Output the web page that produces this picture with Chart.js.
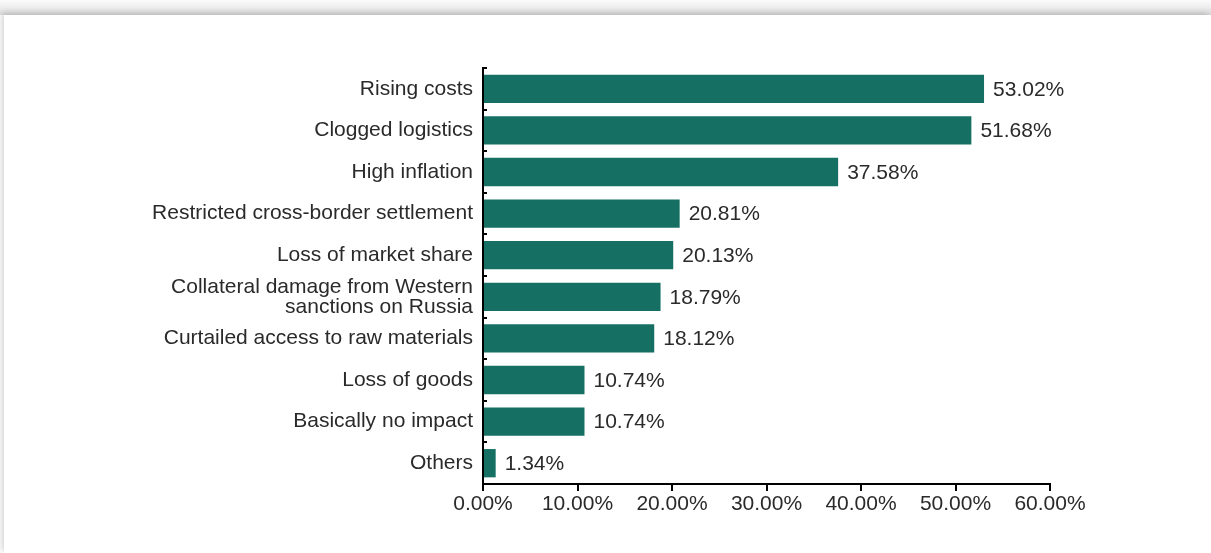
<!DOCTYPE html>
<html>
<head>
<meta charset="utf-8">
<script src="https://cdn.jsdelivr.net/npm/chart.js@4.4.1/dist/chart.umd.min.js"></script>
<style>
  html, body { margin: 0; padding: 0; background: #f4f4f4; overflow: hidden; }
  #wrap {
    position: absolute; left: 0; top: 0; width: 1211px; height: 553px;
    background: linear-gradient(#fbfbfb, #dedede 15px, #fff 15px);
  }
  #card {
    position: absolute; left: 4px; top: 15px; width: 1207px; height: 538px;
    background: #fff; box-shadow: -2px -2px 6px rgba(0,0,0,0.18);
  }
  canvas { position: absolute; left: 0; top: 0; }
</style>
</head>
<body>
<div id="wrap"><div id="card"></div>
<canvas id="impactChart" width="1211" height="553"></canvas>
</div>
<script>
const categories = [
    'Rising costs',
    'Clogged logistics',
    'High inflation',
    'Restricted cross-border settlement',
    'Loss of market share',
    ['Collateral damage from Western', 'sanctions on Russia'],
    'Curtailed access to raw materials',
    'Loss of goods',
    'Basically no impact',
    'Others'
];
const shares = [53.02, 51.68, 37.58, 20.81, 20.13, 18.79, 18.12, 10.74, 10.74, 1.34];
const xTicks = [0, 10, 20, 30, 40, 50, 60];

const BAR_COLOR = '#156f62';
const TEXT_COLOR = '#2a2a2a';
const FONT = "'Liberation Sans', Arial, sans-serif";
const FONT_SIZE = 21;

// value labels to the right of each bar
const valueLabels = {
    id: 'valueLabels',
    afterDatasetsDraw(chart) {
        const ctx = chart.ctx;
        const meta = chart.getDatasetMeta(0);
        ctx.save();
        ctx.font = FONT_SIZE + 'px ' + FONT;
        ctx.fillStyle = TEXT_COLOR;
        ctx.textAlign = 'left';
        ctx.textBaseline = 'middle';
        meta.data.forEach((bar, i) => {
            ctx.fillText(shares[i].toFixed(2) + '%', bar.x + 9, bar.y + 1);
        });
        ctx.restore();
    }
};

// small ticks between categories, drawn inside the plot
const categoryTicks = {
    id: 'categoryTicks',
    afterDraw(chart) {
        const ctx = chart.ctx;
        const y = chart.scales.y;
        const left = chart.chartArea.left;
        const step = Math.abs(y.getPixelForValue(1) - y.getPixelForValue(0));
        ctx.save();
        ctx.strokeStyle = '#000';
        ctx.lineWidth = 2;
        for (let i = 0; i < categories.length; i++) {
            const py = Math.round(y.getPixelForValue(i) - step / 2);
            ctx.beginPath();
            ctx.moveTo(left, py);
            ctx.lineTo(left + 4, py);
            ctx.stroke();
        }
        ctx.restore();
    }
};

const chart = new Chart(document.getElementById('impactChart'), {
    type: 'bar',
    data: {
        labels: categories,
        datasets: [{
            data: shares,
            backgroundColor: BAR_COLOR,
            borderWidth: 0,
            barPercentage: 0.68,
            categoryPercentage: 1.0
        }]
    },
    options: {
        indexAxis: 'y',
        responsive: false,
        animation: false,
        layout: { padding: { top: 68, right: 161, bottom: 0, left: 0 } },
        plugins: {
            legend: { display: false },
            tooltip: { enabled: false }
        },
        scales: {
            x: {
                min: 0,
                max: 60,
                afterBuildTicks: (s) => { s.ticks = xTicks.map(v => ({ value: v })); },
                afterFit: (s) => { s.height = 69; },
                border: { color: '#000', width: 2 },
                grid: {
                    drawOnChartArea: false,
                    drawTicks: true,
                    tickLength: 7,
                    color: '#000',
                    lineWidth: 2
                },
                ticks: {
                    color: TEXT_COLOR,
                    padding: 1,
                    maxRotation: 0,
                    autoSkip: false,
                    font: { family: FONT, size: FONT_SIZE },
                    callback: (v) => v.toFixed(2) + '%'
                }
            },
            y: {
                afterFit: (s) => { s.width = 483; },
                border: { color: '#000', width: 2 },
                grid: { display: false, drawTicks: false },
                ticks: {
                    color: TEXT_COLOR,
                    padding: 10,
                    autoSkip: false,
                    font: { family: FONT, size: FONT_SIZE, lineHeight: 0.95 }
                }
            }
        }
    },
    plugins: [valueLabels, categoryTicks]
});
</script>
</body>
</html>
